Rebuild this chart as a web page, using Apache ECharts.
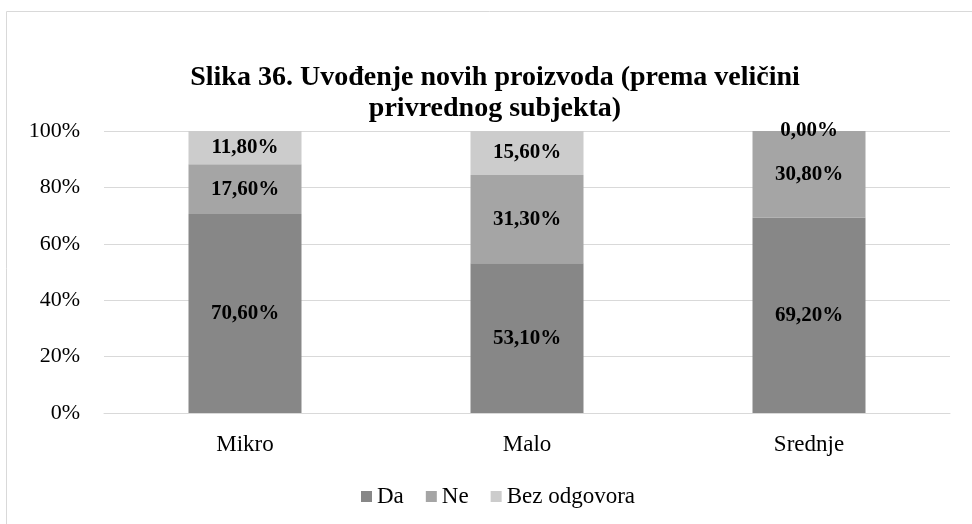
<!DOCTYPE html>
<html>
<head>
<meta charset="utf-8">
<script src="https://cdn.jsdelivr.net/npm/echarts@6/dist/echarts.min.js"></script>
<style>html,body{margin:0;padding:0;background:#fff}#c{width:972px;height:524px}</style>
</head>
<body>
<div id="c"></div>
<script>
const categories = ['Mikro', 'Malo', 'Srednje'];
const seriesNames = ['Da', 'Ne', 'Bez odgovora'];
const da = [70.6, 53.1, 69.2];
const ne = [17.6, 31.3, 30.8];
const bezOdgovora = [11.8, 15.6, 0.0];
const yTicks = [0, 20, 40, 60, 80, 100];
const colors = ['#878787', '#a5a5a5', '#cccccc'];

const font = 'Liberation Serif';
const fmt = v => v.toFixed(2).replace('.', ',') + '%';

const chart = echarts.init(document.getElementById('c'), null, { renderer: 'canvas' });
const values = [da, ne, bezOdgovora];

chart.setOption({
  animation: false,
  color: colors,
  graphic: [{
    type: 'rect',
    shape: { x: 6.5, y: 11.5, width: 980, height: 530 },
    style: { fill: 'none', stroke: '#d9d9d9', lineWidth: 1 },
    z: -1
  }],
  title: {
    text: 'Slika 36. Uvođenje novih proizvoda (prema veličini\nprivrednog subjekta)',
    left: 490, top: 57, textAlign: 'center',
    textStyle: { fontFamily: font, fontWeight: 'bold', fontSize: 28, color: '#000', lineHeight: 31 }
  },
  legend: {
    data: seriesNames, top: 480, left: 356,
    itemWidth: 11, itemHeight: 11, itemGap: 22, icon: 'rect',
    textStyle: { fontFamily: font, fontSize: 23, color: '#000', padding: [0, 0, 0, 0] }
  },
  grid: { left: 104, right: 22, top: 131, bottom: 111 },
  xAxis: {
    type: 'category', data: categories,
    axisLine: { lineStyle: { color: '#d9d9d9' } },
    axisTick: { show: false },
    axisLabel: { fontFamily: font, fontSize: 23, color: '#000', margin: 20 }
  },
  yAxis: {
    type: 'value', min: 0, max: 100, interval: 20,
    axisLabel: { fontFamily: font, fontSize: 22, color: '#000', margin: 24,
      formatter: v => yTicks.includes(v) ? v + '%' : '' },
    splitLine: { lineStyle: { color: '#d9d9d9', width: 1 } },
    axisLine: { show: false }, axisTick: { show: false }
  },
  series: seriesNames.map((name, i) => ({
    name, type: 'bar', stack: 'total', barWidth: 113,
    data: values[i],
    itemStyle: { color: colors[i] },
    label: {
      show: true, position: 'inside', formatter: p => fmt(p.value),
      fontFamily: font, fontWeight: 'bold', fontSize: 21, color: '#000'
    }
  }))
});
</script>
</body>
</html>
